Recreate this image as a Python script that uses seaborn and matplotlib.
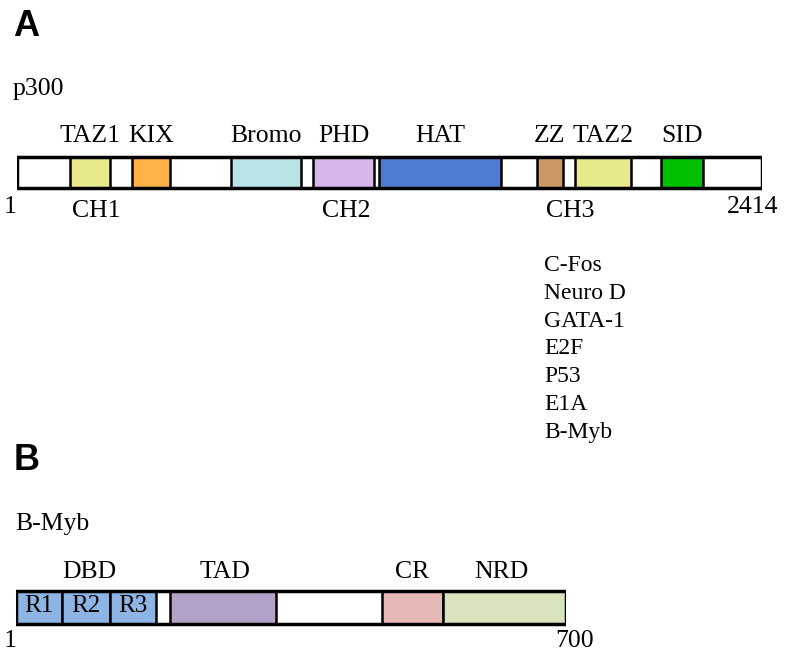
import matplotlib
matplotlib.use("Agg")
import matplotlib.pyplot as plt
import seaborn as sns
import pandas as pd

# p300 domain map (residue ranges)
p300_length = 2414
p300_domains = ["TAZ1", "KIX", "Bromo", "PHD", "HAT", "ZZ", "TAZ2", "SID"]
p300_start = [174, 374, 695, 961, 1174, 1685, 1810, 2088]
p300_end = [303, 496, 922, 1158, 1569, 1770, 1991, 2224]
p300_colors = ["#E8E88C", "#FFB347", "#B9E3E7", "#D6B6EB", "#4F7BD1",
               "#CC9966", "#E8E88C", "#00C000", ]
p300_regions = ["CH1", "CH2", "CH3"]
p300_region_pos = [258, 1068, 1794]
partners = ["C-Fos", "Neuro D", "GATA-1", "E2F", "P53", "E1A", "B-Myb"]

# B-Myb domain map
bmyb_length = 700
bmyb_domains = ["R1", "R2", "R3", "TAD", "CR", "NRD"]
bmyb_start = [1, 59, 120, 197, 466, 544]
bmyb_end = [59, 120, 179, 332, 544, 700]
bmyb_colors = ["#8DB4E2", "#8DB4E2", "#8DB4E2", "#B3A2C7", "#E6B9B8", "#D7E4BC"]
bmyb_groups = ["DBD", "TAD", "CR", "NRD"]
bmyb_group_pos = [94, 267, 504, 618]

W, H = 785, 655
SERIF = ["Liberation Serif", "DejaVu Serif"]

sns.set_theme(style="white")
plt.rcParams["font.family"] = SERIF
plt.rcParams["text.color"] = "black"

fig = plt.figure(figsize=(W / 100, H / 100), dpi=100)


def make_axes(x0, x1, length):
    ax = fig.add_axes([x0 / W, 0, (x1 - x0) / W, 1])
    ax.set_xlim(1, length)
    ax.set_ylim(H, 0)  # y in pixel rows, top to bottom
    ax.patch.set_alpha(0)
    sns.despine(ax=ax, left=True, bottom=True)
    ax.set_axis_off()
    return ax


def draw_protein(ax, df, length, yc, h):
    ax.barh(yc, length - 1, left=1, height=h, color="white", edgecolor="none", zorder=1)
    ax.barh(yc, df["end"] - df["start"], left=df["start"], height=h,
            color=df["color"], edgecolor="black", linewidth=1.8, zorder=2)
    ax.barh(yc, length - 1, left=1, height=h, color="none", edgecolor="black",
            linewidth=2.5, zorder=3)


# ---- Panel A: p300
dfa = pd.DataFrame({"domain": p300_domains, "start": p300_start,
                    "end": p300_end, "color": p300_colors})
axa = make_axes(16.7, 761.7, p300_length)
draw_protein(axa, dfa, p300_length, 172.7, 31)
for _, r in dfa.iterrows():
    axa.text((r["start"] + r["end"]) / 2, 142, r["domain"], ha="center",
             va="baseline", fontsize=18.5)
for name, pos in zip(p300_regions, p300_region_pos):
    axa.text(pos, 217, name, ha="center", va="baseline", fontsize=18.5)
axa.text(-21, 213, "1", ha="center", va="baseline", fontsize=18.5)
axa.text(2383, 213, str(p300_length), ha="center", va="baseline", fontsize=18.5)
for i, name in enumerate(partners):
    axa.text(1709, 271 + 27.8 * i, name, ha="left", va="baseline", fontsize=17)

# ---- Panel B: B-Myb
dfb = pd.DataFrame({"domain": bmyb_domains, "start": bmyb_start,
                    "end": bmyb_end, "color": bmyb_colors})
axb = make_axes(16, 566, bmyb_length)
draw_protein(axb, dfb, bmyb_length, 607.5, 33)
for _, r in dfb.iloc[:3].iterrows():
    axb.text((r["start"] + r["end"]) / 2, 612, r["domain"], ha="center",
             va="baseline", fontsize=18, zorder=4)
for name, pos in zip(bmyb_groups, bmyb_group_pos):
    axb.text(pos, 578, name, ha="center", va="baseline", fontsize=18.5)
axb.text(-6.6, 647, "1", ha="center", va="baseline", fontsize=18.5)
axb.text(711, 647, str(bmyb_length), ha="center", va="baseline", fontsize=18.5)

# panel letters and protein names
fig.text(13 / W, 1 - 36 / H, "A", ha="left", va="baseline", fontsize=26,
         fontweight="bold", family=["Liberation Sans", "DejaVu Sans"])
fig.text(14 / W, 1 - 470 / H, "B", ha="left", va="baseline", fontsize=26,
         fontweight="bold", family=["Liberation Sans", "DejaVu Sans"])
fig.text(13 / W, 1 - 95 / H, "p300", ha="left", va="baseline", fontsize=18.5)
fig.text(15 / W, 1 - 530 / H, "B-Myb", ha="left", va="baseline", fontsize=18.5)

fig.savefig("out.png", dpi=100)
